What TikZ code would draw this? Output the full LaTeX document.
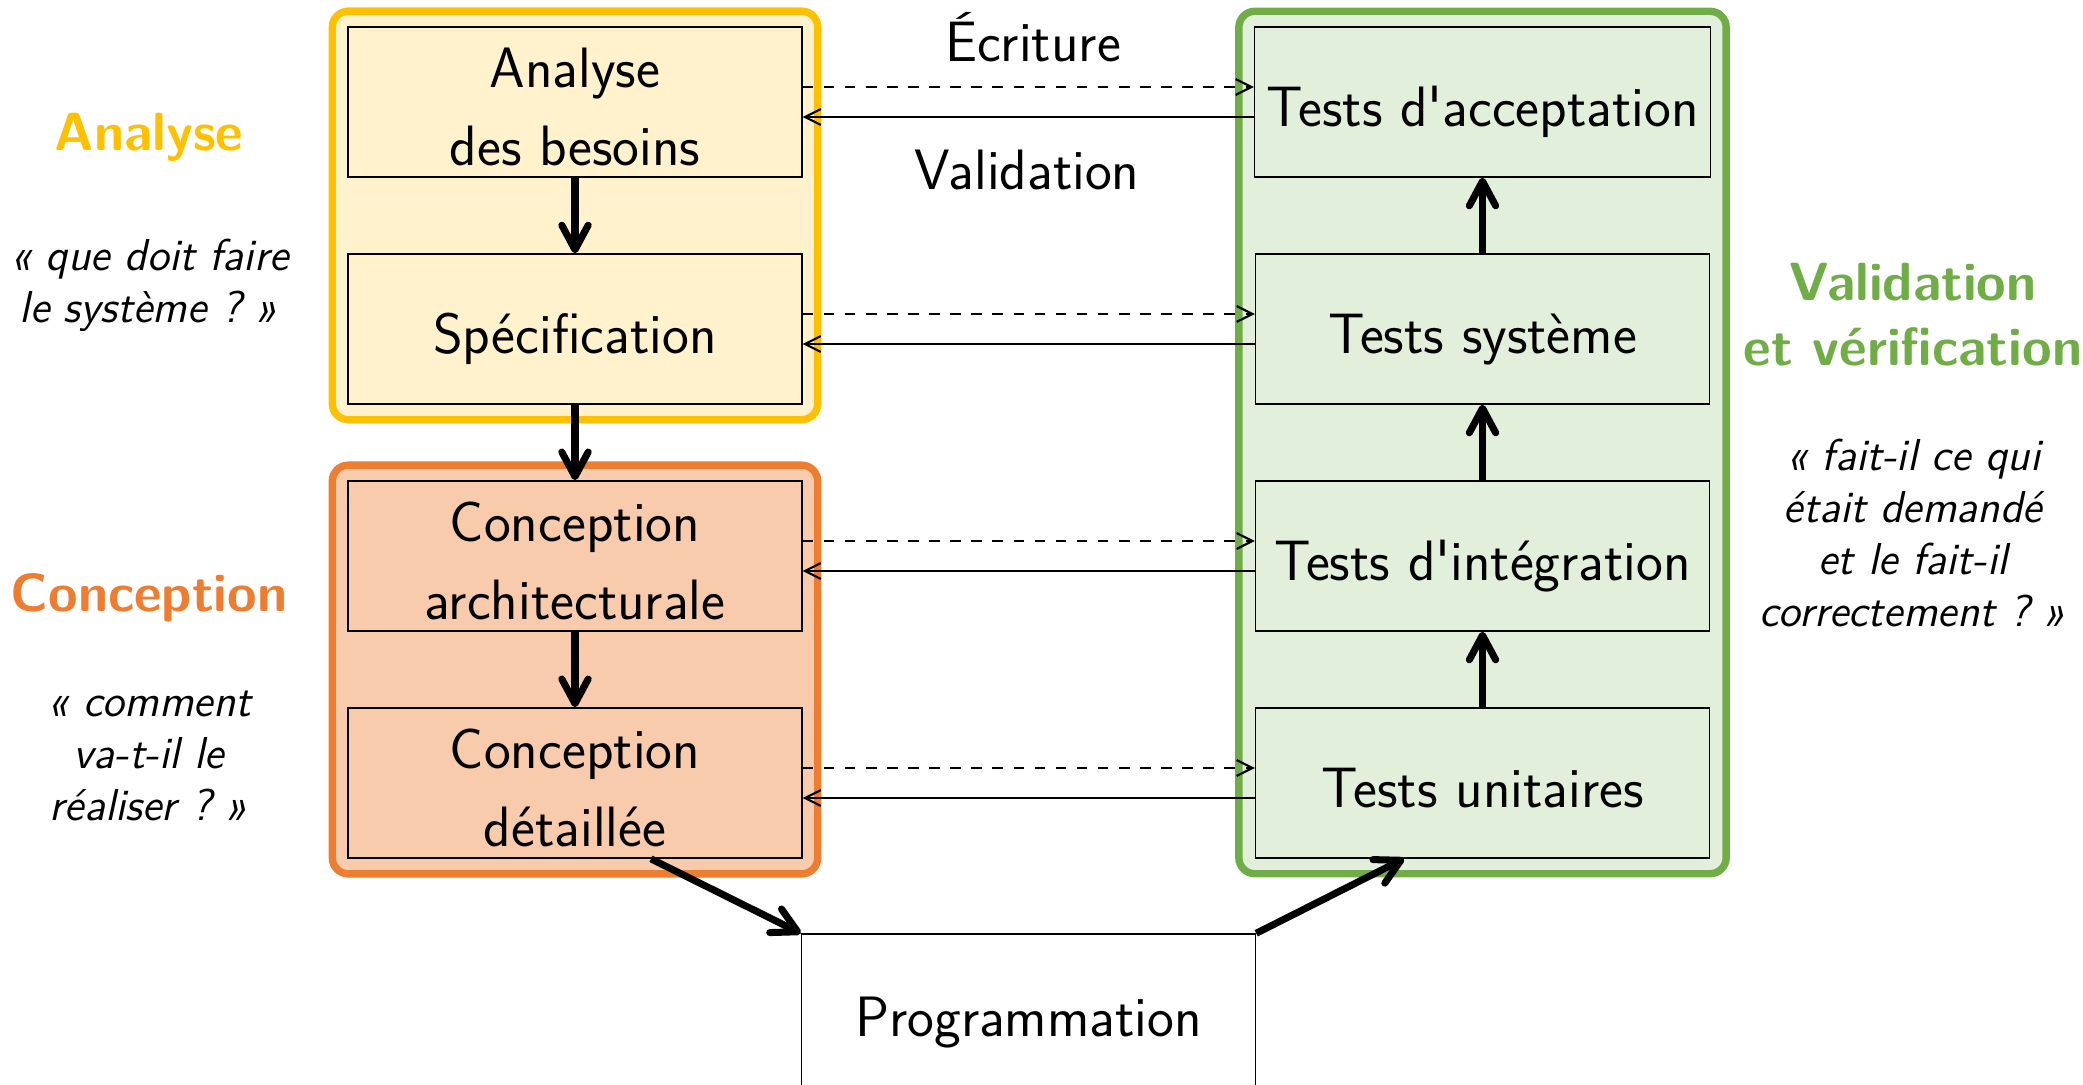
\documentclass[tikz,border=0pt]{standalone}
\usepackage{fontspec}
\usetikzlibrary{fit,backgrounds,arrows.meta}
\tikzset{>={Straight Barb[length=4.5pt,width=4.5pt]}}
\definecolor{jaune}{HTML}{FFC000}
\definecolor{jaunefond}{HTML}{FFF2CC}
\definecolor{orangec}{HTML}{ED7D31}
\definecolor{orangefond}{HTML}{F8CBAD}
\definecolor{vert}{HTML}{70AD47}
\definecolor{vertfond}{HTML}{E2EFDA}
\tikzset{
	etape/.style={draw, minimum width=4.54cm, minimum height=1.5cm, align=center,
		font=\sffamily\fontsize{16.2}{22.3}\selectfont},
	etapeseule/.style={etape, text height=15.5pt, text depth=1.5pt},
	etapedouble/.style={etape, text height=36.1pt, text depth=0pt},
	cadre/.style={draw=#1, line width=2.1pt, rounded corners=0.16cm, inner sep=0.15cm},
	titre/.style={align=center, font=\sffamily\bfseries\fontsize{15.3}{18.5}\selectfont},
	question/.style={align=center, font=\sffamily\itshape\fontsize{12.7}{14.8}\selectfont},
	fleche/.style={-{Straight Barb[length=7pt,width=7.5pt,round]}, line width=2pt},
}

\begin{document}
\begin{tikzpicture}
	\useasboundingbox (0,0) rectangle (20.83,-10.85);

	\node[etapedouble] (besoins) at (5.75,-1.02) {Analyse\\des besoins};
	\node[etapeseule] (specif) at (5.75,-3.29) {Spécification};
	\node[etapedouble] (archi) at (5.75,-5.56) {Conception\\architecturale};
	\node[etapedouble] (detail) at (5.75,-7.83) {Conception\\détaillée};

	\node[etapeseule] (acceptation) at (14.825,-1.02) {Tests d\textquotesingle acceptation};
	\node[etapeseule] (systeme) at (14.825,-3.29) {Tests système};
	\node[etapeseule] (integration) at (14.825,-5.56) {Tests d\textquotesingle intégration};
	\node[etapeseule] (unitaires) at (14.825,-7.83) {Tests unitaires};

	\node[etapeseule, fill=white, minimum height=1.56cm] (prog) at (10.285,-10.12) {Programmation};

	\begin{scope}[on background layer]
		\node[cadre=jaune, fill=jaunefond, fit=(besoins)(specif)] (analyse) {};
		\node[cadre=orangec, fill=orangefond, fit=(archi)(detail)] (conception) {};
		\node[cadre=vert, fill=vertfond, fit=(acceptation)(unitaires)] (validation) {};
	\end{scope}

	\draw[fleche] (besoins) -- (specif);
	\draw[fleche] (specif) -- (archi);
	\draw[fleche] (archi) -- (detail);
	\draw[fleche] ([xshift=0.76cm]detail.south) -- (prog.north west);
	\draw[fleche] (prog.north east) -- ([xshift=-0.785cm]unitaires.south);
	\draw[fleche] (unitaires) -- (integration);
	\draw[fleche] (integration) -- (systeme);
	\draw[fleche] (systeme) -- (acceptation);

	\draw[->, semithick, dashed] ([yshift=0.15cm]besoins.east) -- ([yshift=0.15cm]acceptation.west);
	\draw[<-, semithick] ([yshift=-0.15cm]besoins.east) -- ([yshift=-0.15cm]acceptation.west);
	\draw[->, semithick, dashed] ([yshift=0.15cm]specif.east) -- ([yshift=0.15cm]systeme.west);
	\draw[<-, semithick] ([yshift=-0.15cm]specif.east) -- ([yshift=-0.15cm]systeme.west);
	\draw[->, semithick, dashed] ([yshift=0.15cm]archi.east) -- ([yshift=0.15cm]integration.west);
	\draw[<-, semithick] ([yshift=-0.15cm]archi.east) -- ([yshift=-0.15cm]integration.west);
	\draw[->, semithick, dashed] ([yshift=0.15cm]detail.east) -- ([yshift=0.15cm]unitaires.west);
	\draw[<-, semithick] ([yshift=-0.15cm]detail.east) -- ([yshift=-0.15cm]unitaires.west);

	\node[font=\sffamily\fontsize{16.2}{22.3}\selectfont] (ecriture) at (10.33,-0.37) {Écriture};
	\node[font=\sffamily\fontsize{16.2}{22.3}\selectfont] (valid) at (10.27,-1.70) {Validation};

	\node[titre, text=jaune] (tanalyse) at (1.49,-1.37) {Analyse};
	\node[question] (qanalyse) at (1.49,-2.85) {«~que doit faire\\le système ?~»};
	\node[titre, text=orangec] (tconception) at (1.49,-5.98) {Conception};
	\node[question] (qconception) at (1.49,-7.56) {«~comment\\va-t-il le\\réaliser ?~»};
	\node[titre, text=vert] (tvalidation) at (19.13,-3.15) {Validation\\et vérification};
	\node[question] (qvalidation) at (19.13,-5.33) {«~fait-il ce qui\\était demandé\\et le fait-il\\correctement ?~»};
\end{tikzpicture}
\end{document}
